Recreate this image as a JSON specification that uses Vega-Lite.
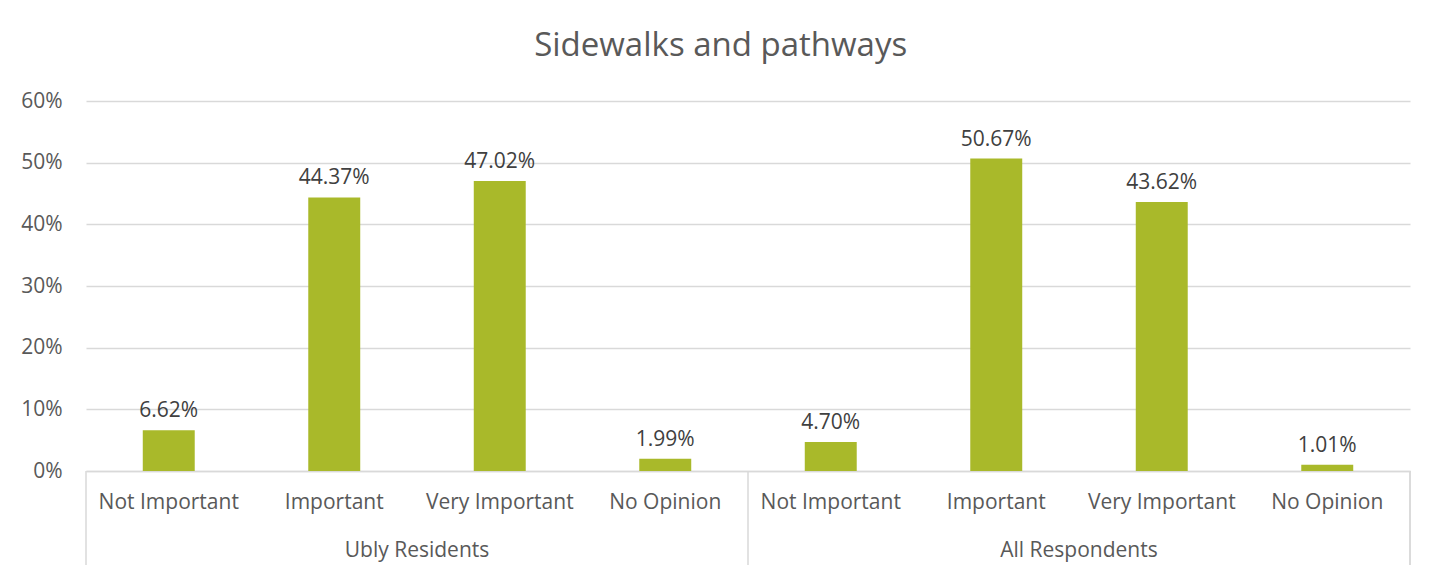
{
  "$schema": "https://vega.github.io/schema/vega-lite/v6.json",
  "background": "white",
  "padding": {"left": 20, "top": 30, "right": 29, "bottom": 5},
  "width": 1324,
  "height": 370,
  "title": {"text": "Sidewalks and pathways", "fontSize": 33, "font": "Open Sans", "fontWeight": "normal", "color": "#595959", "anchor": "middle", "frame": "bounds", "offset": 27, "dx": 5},
  "datasets": {
    "bars": [
      {"group": "Ubly Residents", "category": "Not Important", "key": "Ubly Residents|Not Important", "value": 0.0662},
      {"group": "Ubly Residents", "category": "Important", "key": "Ubly Residents|Important", "value": 0.4437},
      {"group": "Ubly Residents", "category": "Very Important", "key": "Ubly Residents|Very Important", "value": 0.4702},
      {"group": "Ubly Residents", "category": "No Opinion", "key": "Ubly Residents|No Opinion", "value": 0.0199},
      {"group": "All Respondents", "category": "Not Important", "key": "All Respondents|Not Important", "value": 0.0470},
      {"group": "All Respondents", "category": "Important", "key": "All Respondents|Important", "value": 0.5067},
      {"group": "All Respondents", "category": "Very Important", "key": "All Respondents|Very Important", "value": 0.4362},
      {"group": "All Respondents", "category": "No Opinion", "key": "All Respondents|No Opinion", "value": 0.0101}
    ],
    "groups": [
      {"group": "Ubly Residents", "key": "Ubly Residents|Important", "firstKey": "Ubly Residents|Not Important"},
      {"group": "All Respondents", "key": "All Respondents|Important", "firstKey": "All Respondents|Not Important"}
    ]
  },
  "layer": [
    {"data": {"name": "bars"},
     "mark": {"type": "bar", "color": "#A9B92A", "width": {"band": 0.314}},
     "encoding": {
       "x": {"field": "key", "type": "nominal", "sort": null,
         "scale": {"paddingInner": 0, "paddingOuter": 0},
         "axis": {"title": null, "labelAngle": 0, "ticks": false, "domainColor": "#d9d9d9", "domainWidth": 1.5, "labelFont": "Open Sans", "labelFontSize": 21, "labelColor": "#595959", "labelPadding": 20, "labelExpr": "split(datum.value, '|')[1]"}},
       "y": {"field": "value", "type": "quantitative", "scale": {"domain": [0, 0.6], "nice": false},
         "axis": {"title": null, "format": ".0%", "values": [0, 0.1, 0.2, 0.3, 0.4, 0.5, 0.6], "domain": false, "ticks": false, "grid": true, "gridColor": "#d9d9d9", "gridWidth": 1.5, "labelFont": "Open Sans", "labelFontSize": 21, "labelColor": "#595959", "labelPadding": 24}}
     }},
    {"data": {"name": "bars"},
     "mark": {"type": "text", "baseline": "bottom", "dy": -9, "font": "Open Sans", "fontSize": 21, "color": "#404040"},
     "encoding": {
       "x": {"field": "key", "type": "nominal", "sort": null},
       "y": {"field": "value", "type": "quantitative"},
       "text": {"field": "value", "type": "quantitative", "format": ".2%"}
     }},
    {"data": {"name": "groups"},
     "mark": {"type": "text", "baseline": "middle", "align": "center", "font": "Open Sans", "fontSize": 21, "color": "#595959"},
     "encoding": {
       "x": {"field": "key", "type": "nominal", "sort": null, "bandPosition": 1},
       "y": {"datum": -0.1297},
       "text": {"field": "group", "type": "nominal"}
     }},
    {"data": {"name": "groups"},
     "mark": {"type": "rule", "color": "#d9d9d9", "strokeWidth": 1.5},
     "encoding": {
       "x": {"field": "firstKey", "type": "nominal", "sort": null, "bandPosition": 0},
       "y": {"datum": 0},
       "y2": {"datum": -0.1524}
     }},
    {"data": {"name": "groups"},
     "mark": {"type": "rule", "color": "#d9d9d9", "strokeWidth": 1.5},
     "encoding": {
       "x": {"datum": "All Respondents|No Opinion", "bandPosition": 1},
       "y": {"datum": 0},
       "y2": {"datum": -0.1524}
     }}
  ],
  "config": {"view": {"stroke": null}}
}
